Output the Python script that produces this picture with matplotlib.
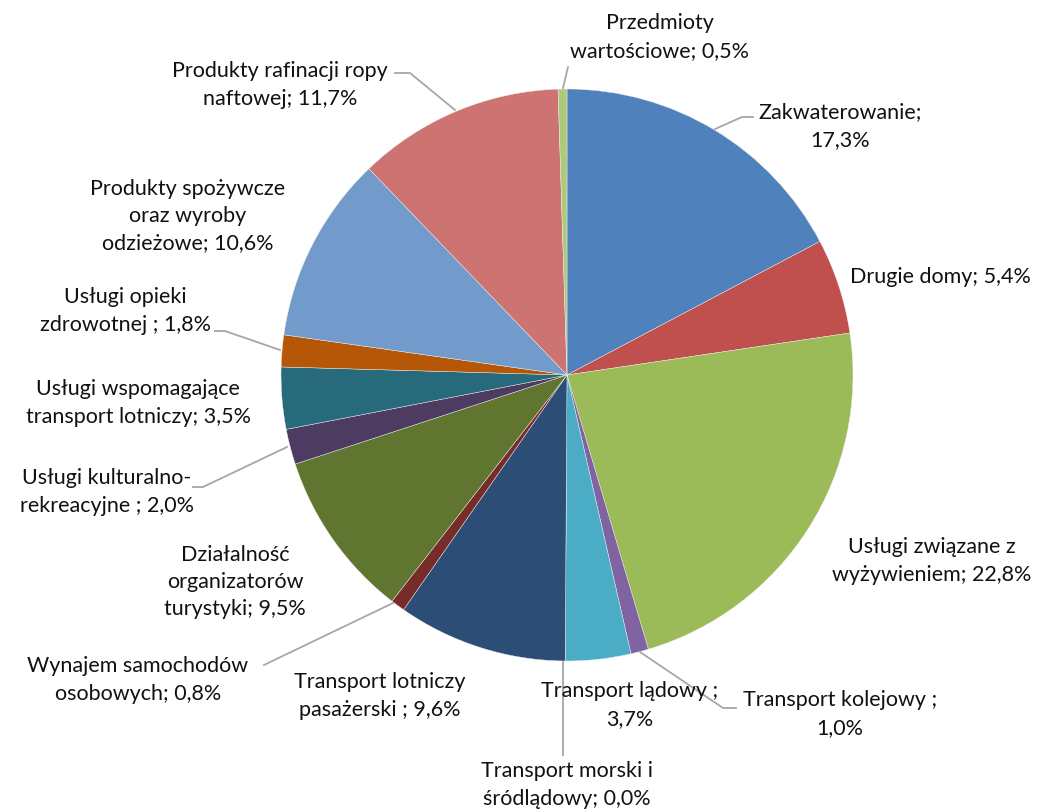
import matplotlib
matplotlib.use('Agg')
import matplotlib.pyplot as plt

plt.rcParams['font.family'] = ['Lato', 'DejaVu Sans']

# shares of tourism spending, clockwise from 12 o'clock
labels = ['Zakwaterowanie;\n17,3%', 'Drugie domy; 5,4%', 'Usługi związane z\nwyżywieniem; 22,8%',
          'Transport kolejowy ;\n1,0%', 'Transport lądowy ;\n3,7%', 'Transport morski i\nśródlądowy; 0,0%',
          'Transport lotniczy\npasażerski ; 9,6%', 'Wynajem samochodów\nosobowych; 0,8%',
          'Działalność\norganizatorów\nturystyki; 9,5%', 'Usługi kulturalno-\nrekreacyjne ; 2,0%',
          'Usługi wspomagające\ntransport lotniczy; 3,5%', 'Usługi opieki\nzdrowotnej ; 1,8%',
          'Produkty spożywcze\noraz wyroby\nodzieżowe; 10,6%', 'Produkty rafinacji ropy\nnaftowej; 11,7%',
          'Przedmioty\nwartościowe; 0,5%']
values = [17.3, 5.4, 22.8, 1.0, 3.7, 0.0, 9.6, 0.8, 9.5, 2.0, 3.5, 1.8, 10.6, 11.7, 0.5]
colors = ['#4F81BD', '#C0504D', '#9BBB59', '#8064A2', '#4BACC6', '#F79646', '#2C4D75', '#772C2A',
          '#5F7530', '#4D3B62', '#276A7C', '#B65708', '#729ACA', '#CD7371', '#AFC97A']

W, H = 1047, 811
fig = plt.figure(figsize=(W / 100, H / 100), dpi=100)
ax = fig.add_axes([0, 0, 1, 1])

cx, cy, r = 567, H - 375, 286
ax.pie(values, colors=colors, startangle=90, counterclock=False, center=(cx, cy), radius=r,
       wedgeprops=dict(linewidth=0.3, edgecolor='#f0f0f0'), frame=True)
ax.set_xlim(0, W)
ax.set_ylim(0, H)
ax.set_aspect('equal')
ax.axis('off')

# label centres in pixel coords (y from top)
label_pos = [(840, 126), (940, 277), (932, 561), (840, 714), (630, 705), (567, 785), (380, 696),
             (138, 680), (235, 582), (107, 492), (138, 403), (125, 311), (188, 216), (280, 85), (660, 37)]
for lab, (x, y) in zip(labels, label_pos):
    ax.text(x, H - y, lab, ha='center', va='center', fontsize=15.5, color='#111111', linespacing=1.45)

# leader lines (pixel coords, y from top)
leaders = [
    [(715, 129), (742, 117), (753, 117)],
    [(640, 652), (723, 708), (736, 708)],
    [(563, 662), (563, 755)],
    [(393, 603), (264, 665)],
    [(287, 447), (203, 487), (193, 487)],
    [(280, 350), (225, 331), (215, 331)],
    [(455, 110), (410, 73), (395, 73)],
    [(563, 88), (568, 67)],
]
for pts in leaders:
    xs = [p[0] for p in pts]
    ys = [H - p[1] for p in pts]
    ax.plot(xs, ys, color='#A6A6A6', lw=1.3)

fig.savefig('out.png', dpi=100)
